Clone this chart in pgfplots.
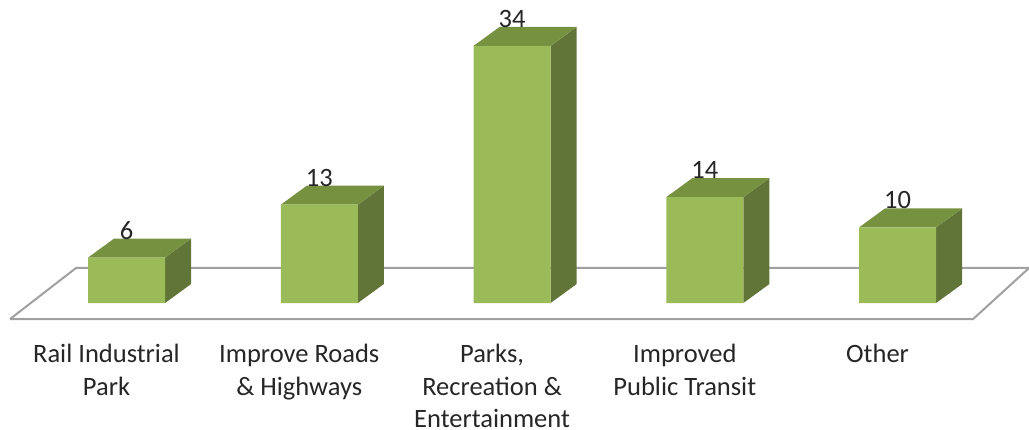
\documentclass[border=0pt]{standalone}
\usepackage{fontspec}
\setmainfont{Carlito}
\usepackage{pgfplots}
\pgfplotsset{compat=1.18}
\definecolor{barfront}{HTML}{9BBB59}
\definecolor{bartop}{HTML}{769140}
\definecolor{barside}{HTML}{627538}
\definecolor{floorline}{HTML}{A0A0A0}
\definecolor{labeltext}{HTML}{262626}
\begin{document}
\begin{tikzpicture}
\path[use as bounding box] (0pt,0pt) rectangle (1029pt,429pt);
\begin{axis}[
  at={(0pt,91pt)}, anchor=south west,
  width=1029pt, height=338pt, scale only axis,
  xmin=-0.6563, xmax=4.682, ymin=-4.63, ymax=40.08,
  clip=false,
  axis line style={draw=none},
  major tick length=0pt,
  ytick=\empty,
  xtick={0,1,2,3,4},
  xticklabels={Rail Industrial\\Park, Improve Roads\\\& Highways, {Parks,\\Recreation \&\\Entertainment}, Improved\\Public Transit, Other},
  xticklabel style={align=center, font=\fontsize{26.5}{32.5}\selectfont, text=labeltext, anchor=north, xshift=-20pt, yshift=-3pt},
]
% floor
\addplot[draw=floorline, line width=2pt, fill=white] coordinates {(-0.604,-2.12) (4.392,-2.12) (4.682,4.63) (-0.262,4.63) (-0.604,-2.12)};
% side and top faces, then front: Rail
\addplot[draw=none, fill=barside] coordinates {(0.2,0) (0.335,2.51) (0.335,8.51) (0.2,6)};
\addplot[draw=none, fill=bartop] coordinates {(-0.2,6) (0.2,6) (0.335,8.51) (-0.065,8.51)};
% Roads
\addplot[draw=none, fill=barside] coordinates {(1.2,0) (1.335,2.51) (1.335,15.51) (1.2,13)};
\addplot[draw=none, fill=bartop] coordinates {(0.8,13) (1.2,13) (1.335,15.51) (0.935,15.51)};
% Parks
\addplot[draw=none, fill=barside] coordinates {(2.2,0) (2.335,2.51) (2.335,36.51) (2.2,34)};
\addplot[draw=none, fill=bartop] coordinates {(1.8,34) (2.2,34) (2.335,36.51) (1.935,36.51)};
% Transit
\addplot[draw=none, fill=barside] coordinates {(3.2,0) (3.335,2.51) (3.335,16.51) (3.2,14)};
\addplot[draw=none, fill=bartop] coordinates {(2.8,14) (3.2,14) (3.335,16.51) (2.935,16.51)};
% Other
\addplot[draw=none, fill=barside] coordinates {(4.2,0) (4.335,2.51) (4.335,12.51) (4.2,10)};
\addplot[draw=none, fill=bartop] coordinates {(3.8,10) (4.2,10) (4.335,12.51) (3.935,12.51)};
% front faces
\addplot[ybar, bar width=77pt, bar shift=0pt, draw=none, fill=barfront,
  nodes near coords, point meta=y,
  every node near coord/.style={font=\fontsize{26.5}{30}\selectfont, text=labeltext, anchor=center, yshift=27pt},
  /pgf/number format/assume math mode=true]
  coordinates {(0,6) (1,13) (2,34) (3,14) (4,10)};
\end{axis}
\end{tikzpicture}
\end{document}
